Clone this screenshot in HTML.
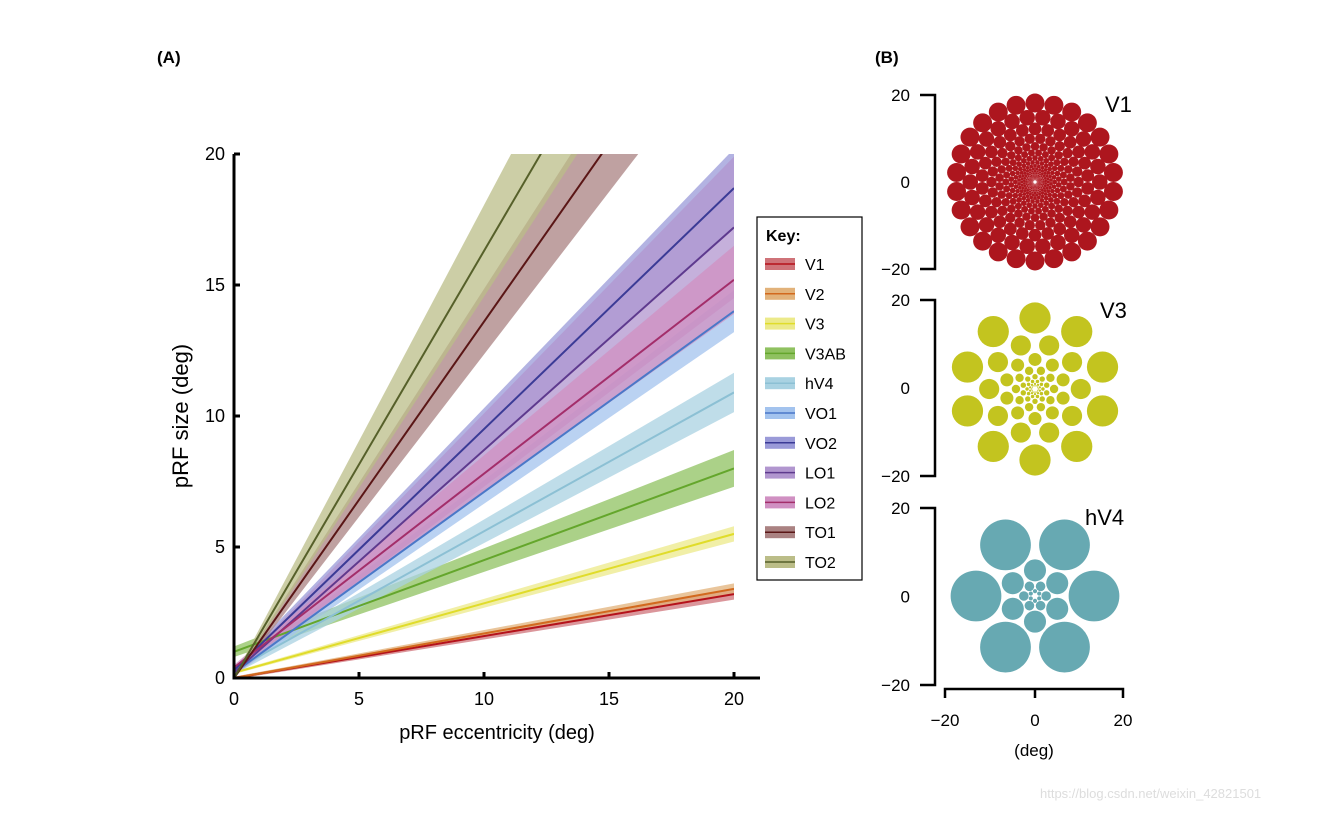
<!DOCTYPE html>
<html><head><meta charset="utf-8">
<style>
html,body{margin:0;padding:0;background:#fff;}
svg text{font-family:"Liberation Sans","DejaVu Sans",sans-serif;}
</style></head>
<body>
<svg id="fig" width="1324" height="812" viewBox="0 0 1324 812" xmlns="http://www.w3.org/2000/svg">
<rect width="1324" height="812" fill="#fff"/>
<text x="157" y="63" font-size="17" font-weight="bold">(A)</text>
<text x="875" y="63" font-size="17" font-weight="bold">(B)</text>
<g id="plotA"></g>
<g id="plotB"></g>
<text x="1040" y="798" font-size="13" fill="#ddd">https://blog.csdn.net/weixin_42821501</text>
</svg>
<script>
const areas = ["V1","V2","V3","V3AB","hV4","VO1","VO2","LO1","LO2","TO1","TO2"];
const slopes = [0.16,0.17,0.265,0.35,0.53,0.69,0.92,0.85,0.74,1.36,1.63];
const intercepts = [0.0,0.0,0.2,1.0,0.3,0.2,0.3,0.2,0.4,0.0,0.0];
const slopeErr = [0.008,0.008,0.012,0.025,0.03,0.035,0.07,0.13,0.06,0.12,0.17];
const intErr = [0.05,0.05,0.05,0.2,0.15,0.1,0.1,0.1,0.1,0.05,0.05];
const lineColors = ["#b5121b","#d2691e","#e0dc2a","#64a62c","#8cc0d4","#4a78c8","#3b3b96","#5e3a8e","#a32e6a","#5a1616","#56602a"];
const bandColors = ["#cf7379","#e2b27a","#ecea8a","#8fc160","#a9d2e2","#a3c3ee","#9a9ad8","#b196cf","#d090c2","#aa8282","#bbbd88"];
const xTicks = [0,5,10,15,20];
const yTicks = [0,5,10,15,20];

const NS="http://www.w3.org/2000/svg";
function mk(tag, attrs, parent){const e=document.createElementNS(NS,tag);for(const k in attrs)e.setAttribute(k,attrs[k]);parent.appendChild(e);return e;}
const A=document.getElementById('plotA');
const X0=234,X1=734,Y0=678,Y1=154;
const xs=v=>X0+(v/20)*(X1-X0);
const ys=v=>Y0-(v/20)*(Y0-Y1);
const defs=mk('defs',{},A);
const cp=mk('clipPath',{id:'clipA'},defs);
mk('rect',{x:X0,y:Y1,width:X1-X0,height:Y0-Y1},cp);
const gBands=mk('g',{'clip-path':'url(#clipA)'},A);


for(let i=0;i<areas.length;i++){
  const lo=x=>intercepts[i]-intErr[i]+(slopes[i]-slopeErr[i])*x;
  const hi=x=>intercepts[i]+intErr[i]+(slopes[i]+slopeErr[i])*x;
  const p=mk('path',{d:`M${xs(0)},${ys(lo(0))}L${xs(20)},${ys(lo(20))}L${xs(20)},${ys(hi(20))}L${xs(0)},${ys(hi(0))}Z`,fill:bandColors[i],'fill-opacity':0.75},gBands);
  
  
}
for(let i=0;i<areas.length;i++){
  const l=mk('line',{x1:xs(0),y1:ys(intercepts[i]),x2:xs(20),y2:ys(intercepts[i]+slopes[i]*20),stroke:lineColors[i],'stroke-width':2},gBands);
  
  
}
const ax=mk('path',{d:`M${X0},${Y1}V${Y0}H${X1+26}`,stroke:'#000','stroke-width':3,fill:'none'},A);


xTicks.forEach(t=>{
  mk('line',{x1:xs(t),y1:Y0,x2:xs(t),y2:Y0-6,stroke:'#000','stroke-width':3},A);
  const tx=mk('text',{x:xs(t),y:Y0+27,'font-size':18,'text-anchor':'middle'},A);tx.textContent=t;
  
  
});
yTicks.forEach(t=>{
  mk('line',{x1:X0,y1:ys(t),x2:X0+6,y2:ys(t),stroke:'#000','stroke-width':3},A);
  const tx=mk('text',{x:X0-9,y:ys(t)+6,'font-size':18,'text-anchor':'end'},A);tx.textContent=t;
  
  
});
let t=mk('text',{x:497,y:739,'font-size':20,'text-anchor':'middle'},A);t.textContent='pRF eccentricity (deg)';


t=mk('text',{x:188,y:416,'font-size':22,'text-anchor':'middle',transform:'rotate(-90 188 416)'},A);t.textContent='pRF size (deg)';


const lg=mk('g',{},A);


mk('rect',{x:757,y:217,width:105,height:363,fill:'#fff',stroke:'#000','stroke-width':1.2},lg);
t=mk('text',{x:766,y:241,'font-size':16,'font-weight':'bold'},lg);t.textContent='Key:';
areas.forEach((a,i)=>{
  const y=264+i*29.8;
  const g=mk('g',{},lg);
  
  
  mk('rect',{x:765,y:y-6,width:30,height:12,fill:bandColors[i]},g);
  mk('line',{x1:765,y1:y,x2:795,y2:y,stroke:lineColors[i],'stroke-width':1.5},g);
  const tt=mk('text',{x:805,y:y+6,'font-size':16},g);tt.textContent=a;
});

const B=document.getElementById('plotB');
const panels=[
 {name:'V1',cy:182,top:95,bot:269,color:'#ad161e',outerD:79,ratio:1.22,count:26,rfrac:0.12,rings:20,lx:1105,ly:112},
 {name:'V3',cy:389,top:300,bot:476,color:'#c3c41f',outerD:71,ratio:1.55,count:10,rfrac:0.22,rings:8,lx:1100,ly:318},
 {name:'hV4',cy:596,top:508,bot:685,color:'#67a9b2',outerD:59,ratio:2.3,count:6,rfrac:0.43,rings:4,lx:1085,ly:525}
];
panels.forEach(p=>{
  const g=mk('g',{},B);
  
  
  mk('path',{d:`M920,${p.top}H935V${p.bot}H920`,stroke:'#000','stroke-width':2.5,fill:'none'},g);
  [[p.top,'20'],[(p.top+p.bot)/2,'0'],[p.bot,'\u221220']].forEach(([y,s])=>{
    const tt=mk('text',{x:910,y:y+6,'font-size':17,'text-anchor':'end'},g);tt.textContent=s;
  });
  const lb=mk('text',{x:p.lx,y:p.ly,'font-size':22},g);lb.textContent=p.name;
  for(let k=0;k<p.rings;k++){
    const d=p.outerD/Math.pow(p.ratio,k);
    const r=d*p.rfrac;
    for(let j=0;j<p.count;j++){
      const a=(j+(k%2)*0.5)/p.count*2*Math.PI-Math.PI/2+(p.name==='hV4'?Math.PI/6:0);
      mk('circle',{cx:1035+d*Math.cos(a),cy:p.cy+d*Math.sin(a),r:r,fill:p.color},g);
    }
  }
});
const bx=mk('g',{},B);


mk('path',{d:'M945,698V689H1123V698M1035,689V698',stroke:'#000','stroke-width':2.5,fill:'none'},bx);
[[945,'\u221220'],[1035,'0'],[1123,'20']].forEach(([x,s])=>{const tt=mk('text',{x:x,y:726,'font-size':17,'text-anchor':'middle'},bx);tt.textContent=s;});
t=mk('text',{x:1034,y:756,'font-size':17,'text-anchor':'middle'},bx);t.textContent='(deg)';
</script>
</body></html>
